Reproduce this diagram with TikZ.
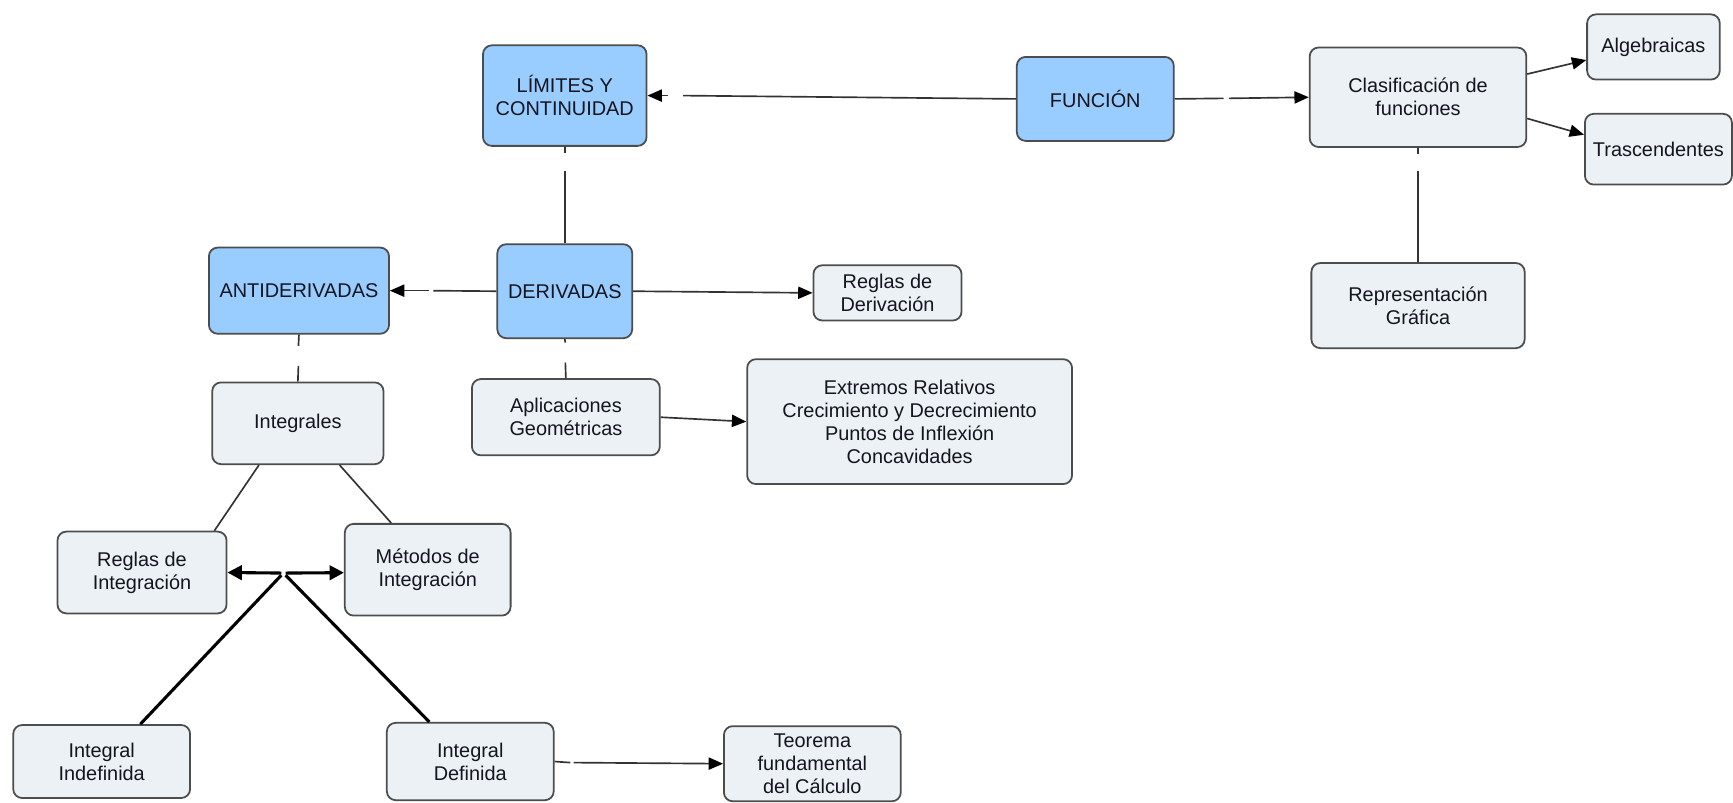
\documentclass[tikz,border=0pt]{standalone}
\usepackage{fontspec}
\setmainfont{Liberation Sans}
\usetikzlibrary{arrows.meta}
\definecolor{bluefill}{HTML}{99CCFF}
\definecolor{grayfill}{HTML}{EBF1F4}
\definecolor{boxline}{HTML}{4D4D4D}
\definecolor{linkline}{HTML}{333333}
\definecolor{txt}{HTML}{15151F}
\begin{document}
\begin{tikzpicture}[x=0.5pt,y=-0.5pt,
  sz/.style 2 args={minimum width=#1*0.5pt, minimum height=#2*0.5pt},
  concept/.style={draw=boxline, line width=0.8pt, rounded corners=4pt, inner sep=0pt,
    align=center, font=\fontsize{9}{10.4}\selectfont, text=txt},
  main/.style={concept, fill=bluefill},
  sub/.style={concept, fill=grayfill},
  gap/.style={inner sep=0pt, outer sep=0pt},
  link/.style={draw=linkline, line width=0.75pt},
  arr/.style={link, -{Triangle[length=6.5pt,width=5.5pt,color=black]}},
  thicklink/.style={draw=black, line width=1.4pt},
  tarr/.style={thicklink, -{Triangle[length=6.5pt,width=6.5pt]}}]
\fill[white] (0,0) rectangle (1568,726);
\useasboundingbox (0,0) rectangle (1568,726);

% concepts
\node[main, sz={148}{91}] (LIM) at (511,86.5) {LÍMITES Y\\CONTINUIDAD};
\node[main, sz={142}{76}] (FUNC) at (991,89.5) {FUNCIÓN};
\node[sub, sz={196}{90}] (CLAS) at (1283,88) {Clasificación de\\funciones};
\node[sub, sz={120}{59}] (ALG) at (1496,42.5) {Algebraicas};
\node[sub, sz={133}{64}] (TRAS) at (1500.5,135) {Trascendentes};
\node[sub, sz={193}{77}] (REP) at (1283,276.5) {Representación\\Gráfica};
\node[main, sz={122}{85}] (DER) at (511,263.5) {DERIVADAS};
\node[main, sz={163}{78}] (ANTI) at (270.5,263) {ANTIDERIVADAS};
\node[sub, sz={134}{50}] (RDER) at (803,265) {Reglas de\\Derivación};
\node[sub, sz={170}{69}] (APL) at (512,377.5) {Aplicaciones\\Geométricas};
\node[sub, sz={294}{113}] (EXT) at (823,381.5) {Extremos Relativos\\Crecimiento y Decrecimiento\\Puntos de Inflexión\\Concavidades};
\node[sub, sz={155}{74}] (INTG) at (269.5,383) {Integrales};
\node[sub, sz={153}{74}] (RINT) at (128.5,518) {Reglas de\\Integración};
\node[sub, sz={150}{83}] (MINT) at (387,515.5) {Métodos de\\Integración};
\node[sub, sz={160}{66}] (IIND) at (92,689) {Integral\\Indefinida};
\node[sub, sz={151}{70}] (IDEF) at (425.5,689) {Integral\\Definida};
\node[sub, sz={160}{68}] (TEO) at (735,691) {Teorema\\fundamental\\del Cálculo};

% empty linking phrases (gaps)
\node[gap, sz={14}{0}] (g1) at (611,86.5) {};
\node[gap, sz={5}{0}] (g2) at (1109.5,89) {};
\node[gap, sz={0}{16}] (g3) at (1283,147) {};
\node[gap, sz={0}{17}] (g4) at (511,146.5) {};
\node[gap, sz={4}{0}] (g5) at (390,263) {};
\node[gap, sz={0}{18}] (g6) at (511.5,319) {};
\node[gap, sz={0}{18}] (g7) at (270,322) {};
\node[gap, sz={4}{4}] (jn) at (256.5,518.5) {};
\node[gap, sz={3}{0}] (g8) at (517.5,690) {};

% connectors
\draw[link] (FUNC.west) -- (g1.east);
\draw[arr] (g1.west) -- (LIM.east);
\draw[link] (FUNC.east) -- (g2.west);
\draw[arr] (g2.east) -- (CLAS.west);
\draw[arr] (CLAS.12.6) -- (ALG.191.8);
\draw[arr] (CLAS.-11) -- (TRAS.169);
\draw[link] (CLAS.south) -- (g3.north);
\draw[link] (g3.south) -- (REP.north);
\draw[link] (LIM.south) -- (g4.north);
\draw[link] (g4.south) -- (DER.north);
\draw[link] (DER.west) -- (g5.east);
\draw[arr] (g5.west) -- (ANTI.east);
\draw[arr] (DER.east) -- (RDER.west);
\draw[link] (DER.south) -- (g6.north);
\draw[link] (g6.south) -- (APL.north);
\draw[link] (ANTI.south) -- (g7.north);
\draw[link] (g7.south) -- (INTG.north);
\draw[arr] (APL.east) -- (EXT.west);
\draw[link] (INTG.227.8) -- (RINT.30.6);
\draw[link] (INTG.-45.4) -- (MINT.128.5);
\draw[tarr] (jn.west) -- (RINT.east);
\draw[tarr] (jn.east) -- (MINT.182);
\draw[thicklink] (jn.south west) -- (IIND.44.8);
\draw[thicklink] (jn.south east) -- (IDEF.136.7);
\draw[link] (IDEF.east) -- (g8.west);
\draw[arr] (g8.east) -- (TEO.west);
\end{tikzpicture}
\end{document}
